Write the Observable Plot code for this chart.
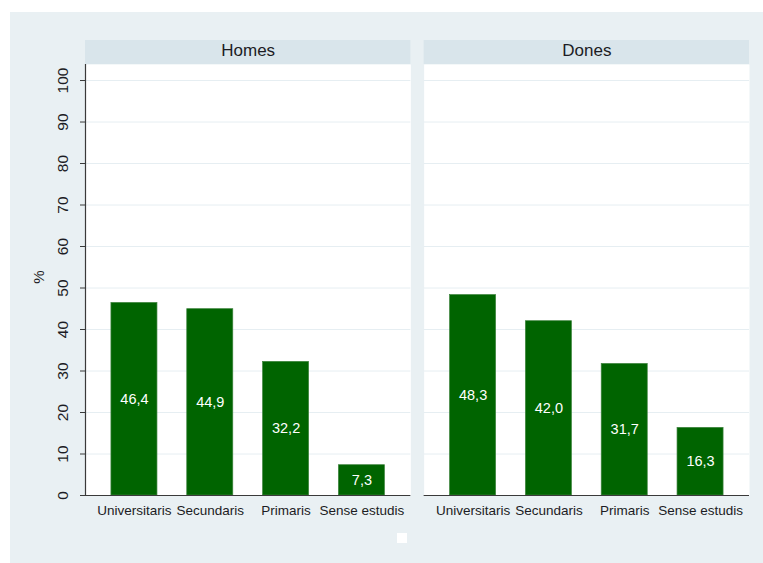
<!DOCTYPE html>
<html>
<head>
<meta charset="utf-8">
<script src="https://cdn.jsdelivr.net/npm/d3@7"></script>
<script src="https://cdn.jsdelivr.net/npm/@observablehq/plot@0.6"></script>
<style>
  body { margin: 0; background: #ffffff; }
  #wrap { position: absolute; left: 10px; top: 12px; width: 753px; height: 551px; background: #e9f0f3; overflow: hidden; }
  #chart { position: absolute; left: 0; top: 0; }
  #key { position: absolute; left: 387px; top: 521px; width: 10px; height: 10px; background: #ffffff; }
</style>
</head>
<body>
<div id="wrap"><div id="chart"></div><div id="key"></div></div>
<script>
// ---- data ----
const panels = ["Homes", "Dones"];
const categories = ["Universitaris", "Secundaris", "Primaris", "Sense estudis"];
const homesValues = [46.4, 44.9, 32.2, 7.3];
const donesValues = [48.3, 42.0, 31.7, 16.3];
const yTicks = [0, 10, 20, 30, 40, 50, 60, 70, 80, 90, 100];
const yLabel = "%";

const rows = [
  ...categories.map((c, i) => ({panel: "Homes", cat: c, val: homesValues[i]})),
  ...categories.map((c, i) => ({panel: "Dones", cat: c, val: donesValues[i]}))
];

const fmt = v => v.toFixed(1).replace(".", ",");

// layout
const W = 753, H = 551;
const mTop = 52, mBottom = 68, mLeft = 75, mRight = 14;
const plotH = H - mTop - mBottom;          // 431
const yTop = 103.86;                        // value at top of plot area
const stripTop = yTop * (1 + 24 / plotH);   // header strip 24px tall

const font = "'Liberation Sans', Arial, Helvetica, sans-serif";
const ink = "#1c1c24";

const chart = Plot.plot({
  width: W,
  height: H,
  marginTop: mTop,
  marginBottom: mBottom,
  marginLeft: mLeft,
  marginRight: mRight,
  style: {fontFamily: font, background: "transparent", color: "#222"},
  fx: {domain: panels, paddingInner: 0.0392, paddingOuter: 0, round: false, axis: null, label: null},
  x: {domain: categories, paddingInner: 0.393, paddingOuter: 0.342, round: false, axis: null, label: null},
  y: {domain: [0, yTop], axis: null, label: null},
  marks: [
    Plot.frame({fill: "white", stroke: "none"}),
    // header strips
    Plot.barY(panels, {fx: d => d, y1: () => yTop, y2: () => stripTop, fill: "#d9e5eb"}),
    Plot.text(panels, {fx: d => d, text: d => d, frameAnchor: "top", dy: -13.5, lineAnchor: "middle", fontSize: 17, fill: ink}),
    // gridlines
    Plot.ruleY(yTicks.filter(v => v > 0), {stroke: "#e6eef2", strokeWidth: 1}),
    // bars
    Plot.barY(rows, {fx: "panel", x: "cat", y: "val", fill: "#006400", stroke: "#3d833d", strokeWidth: 0.7}),
    Plot.text(rows, {fx: "panel", x: "cat", y: d => d.val / 2, text: d => fmt(d.val), fill: "white", fontSize: 14.5, lineAnchor: "middle"}),
    // axis lines
    Plot.ruleY([0], {stroke: "#3a3a3a", strokeWidth: 1.2}),
    Plot.frame({anchor: "left", facetAnchor: "left", stroke: "#3a3a3a", strokeWidth: 1.2}),
    Plot.axisY({ticks: yTicks, tickSize: 5, tickFormat: () => "", label: null, stroke: "#3a3a3a"}),
    Plot.text(yTicks, {fx: () => "Homes", y: d => d, text: d => String(d), frameAnchor: "left", dx: -22.5, rotate: -90, textAnchor: "middle", lineAnchor: "middle", fontSize: 15.5, fill: ink}),
    Plot.text([yLabel], {fx: () => "Homes", text: d => d, frameAnchor: "left", dx: -46, dy: -3, rotate: -90, textAnchor: "middle", lineAnchor: "middle", fontSize: 15, fill: ink}),
    Plot.axisX({tickSize: 0, tickPadding: 10, fontSize: 13.5, label: null, fill: ink})
  ]
});
document.getElementById("chart").appendChild(chart);
</script>
</body>
</html>
